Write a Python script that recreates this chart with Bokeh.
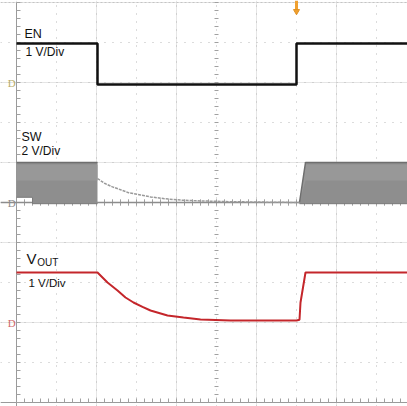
import numpy as np
from bokeh.plotting import figure
from bokeh.models import Range1d, Grid, FixedTicker
from bokeh.core.properties import value
from bokeh.embed import file_html
from bokeh.resources import INLINE

# ---- data (time in screen divisions, levels in volts) ----
# EN : 1 V/div, ground marker at division 8
en_t = [0.0, 2.025, 2.025, 7.0, 7.0, 9.9]
en_v = [0.975, 0.975, -0.05, -0.05, 0.975, 0.975]

# SW : 2 V/div, ground marker at division 5
sw_band1_t = [0.0, 0.4, 0.4, 2.025]
sw_band1_lo = [0.26, 0.26, -0.06, -0.06]
sw_band1_hi = [2.0, 2.0, 2.0, 2.0]
sw_band2_t = [7.075, 7.225, 9.9]
sw_band2_lo = [-0.06, -0.06, -0.06]
sw_band2_hi = [0.0, 2.0, 2.0]
sw_decay_t = [2.025, 2.2, 2.4, 2.6, 2.8, 3.1, 3.35, 3.7, 4.1, 4.6, 5.35, 7.0, 7.075]
sw_decay_v = [1.2, 0.96, 0.78, 0.64, 0.49, 0.38, 0.28, 0.19, 0.12, 0.08, 0.04, 0.0, 0.0]

# VOUT : 1 V/div, ground marker at division 2
vo_t = [0.0, 2.025, 2.275, 2.525, 2.725, 2.925, 3.15, 3.35, 3.775, 4.175, 4.6,
        5.35, 7.0, 7.075, 7.1, 7.225, 9.9]
vo_v = [1.25, 1.25, 1.0, 0.8, 0.625, 0.5, 0.39, 0.3, 0.175, 0.125, 0.075,
        0.05, 0.05, 0.07, 0.5, 1.25, 1.25]

EN_GND, EN_SCALE = 8.0, 1.0
SW_GND, SW_SCALE = 5.0, 2.0
VO_GND, VO_SCALE = 2.0, 1.0
TRIG_T = 7.0

def to_div(v, gnd, scale):
    return [gnd + x / scale for x in v]

X0, X1, Y0, Y1 = -0.4, 9.775, -0.1, 10.05

p = figure(width=407, height=406, output_backend="svg", toolbar_location=None,
           x_range=Range1d(X0, X1), y_range=Range1d(Y0, Y1),
           x_axis_location=None, y_axis_location=None,
           min_border_left=0, min_border_right=0, min_border_top=0, min_border_bottom=0)
p.outline_line_color = None
p.background_fill_color = "white"
p.border_fill_color = "white"

for dim in (0, 1):
    g = Grid(dimension=dim, ticker=FixedTicker(ticks=list(range(1, 10))),
             grid_line_color="#b8b8b8", grid_line_dash="1 7", grid_line_width=1)
    p.add_layout(g)
p.add_layout(Grid(dimension=1, ticker=FixedTicker(ticks=[10]),
                  grid_line_color="#c4c4c4", grid_line_dash="2 2", grid_line_width=1))

# border lines and scope tick marks
p.segment(x0=[0, X0], y0=[Y0, 0], x1=[0, X1], y1=[10, 0], line_color="#9a9a9a", line_width=1)
minor = np.arange(0, 10.01, 0.2)
p.segment(x0=0, y0=minor, x1=0.1, y1=minor, line_color="#a0a0a0", line_width=1)
p.segment(x0=minor, y0=0, x1=minor, y1=0.1, line_color="#a0a0a0", line_width=1)
p.segment(x0=4.95, y0=minor, x1=5.05, y1=minor, line_color="#a0a0a0", line_width=1)
p.segment(x0=minor, y0=4.92, x1=minor, y1=5.08, line_color="#a0a0a0", line_width=1)

# SW channel
p.line([X0, 9.9], [SW_GND, SW_GND], line_color="#8c8c8c", line_width=1.5)
for bt, blo, bhi in ((sw_band1_t, sw_band1_lo, sw_band1_hi), (sw_band2_t, sw_band2_lo, sw_band2_hi)):
    lo = to_div(blo, SW_GND, SW_SCALE)
    hi = to_div(bhi, SW_GND, SW_SCALE)
    p.varea(x=bt, y1=lo, y2=hi, fill_color="#8e8e8e")
    base = [max(SW_GND, l) for l in lo]
    mid_lo = [max(b, SW_GND + (h - SW_GND) * 0.55) for b, h in zip(base, hi)]
    mid_hi = [max(b, SW_GND + (h - SW_GND) * 0.95) for b, h in zip(base, hi)]
    p.varea(x=bt, y1=mid_lo, y2=mid_hi, fill_color="#989898")
    p.line(bt, hi, line_color="#6e6e6e", line_width=1.5)
    p.line(bt, lo, line_color="#7a7a7a", line_width=1)
p.line(sw_decay_t, to_div(sw_decay_v, SW_GND, SW_SCALE), line_color="#9a9a9a",
       line_width=1.5, line_dash="3 1")

# EN channel
p.line(en_t, to_div(en_v, EN_GND, EN_SCALE), line_color="#111111", line_width=2.5)

# VOUT channel
p.line(vo_t, to_div(vo_v, VO_GND, VO_SCALE), line_color="#c4262b", line_width=2)

# channel ground markers and trigger marker
p.text(x=[-0.12, -0.12, -0.12], y=[EN_GND, SW_GND, VO_GND], text=["D", "D", "D"],
       text_color=["#b8ad6a", "#8c8c8c", "#d06a6a"], text_font=value("Liberation Serif"),
       text_font_size="11px", text_align="center", text_baseline="middle")
p.segment(x0=TRIG_T, y0=9.8, x1=TRIG_T, y1=10.05, line_color="#f0a030", line_width=3)
p.scatter(x=[TRIG_T], y=[9.78], marker="inverted_triangle", size=6, fill_color="#f0a030",
          line_color="#e09020")

font = value("Liberation Sans")
p.text(x=[0.2], y=[9.03], text=["EN"], text_font=font, text_font_size="12.5px", text_color="#111111")
p.text(x=[0.225], y=[8.6], text=["1 V/Div"], text_font=font, text_font_size="12px", text_color="#111111")
p.text(x=[0.125], y=[6.475], text=["SW"], text_font=font, text_font_size="12.5px", text_color="#111111")
p.text(x=[0.125], y=[6.125], text=["2 V/Div"], text_font=font, text_font_size="12px", text_color="#111111")
p.text(x=[0.25], y=[3.4], text=["V"], text_font=font, text_font_size="15px", text_color="#111111")
p.text(x=[0.52], y=[3.36], text=["OUT"], text_font=font, text_font_size="10px", text_color="#111111")
p.text(x=[0.3], y=[2.85], text=["1 V/Div"], text_font=font, text_font_size="11.5px", text_color="#111111")

open("out.html", "w").write(file_html(p, INLINE))
